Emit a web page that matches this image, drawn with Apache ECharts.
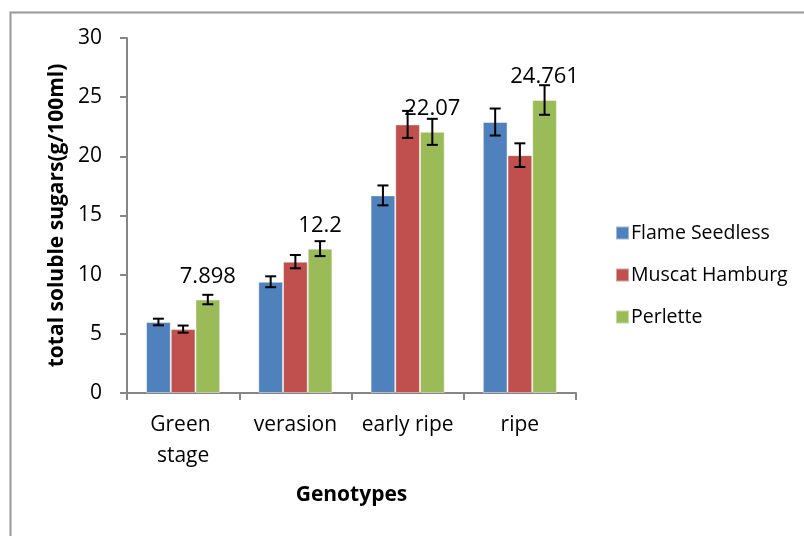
<!DOCTYPE html>
<html>
<head>
<meta charset="utf-8">
<script src="https://cdn.jsdelivr.net/npm/echarts@6/dist/echarts.min.js"></script>
<style>html,body{margin:0;padding:0;background:#fff}#c{width:804px;height:536px}</style>
</head>
<body>
<div id="c"></div>
<script>
const categories = ['Green stage', 'verasion', 'early ripe', 'ripe'];
const seriesNames = ['Flame Seedless', 'Muscat Hamburg', 'Perlette'];
const flameSeedless = [6.0, 9.4, 16.7, 22.9];
const muscatHamburg = [5.4, 11.1, 22.7, 20.1];
const perlette = [7.898, 12.2, 22.07, 24.761];
const flameErr = [0.28, 0.46, 0.84, 1.14];
const muscatErr = [0.3, 0.56, 1.14, 1.0];
const perletteErr = [0.4, 0.63, 1.1, 1.25];
const yTicks = [0, 5, 10, 15, 20, 25, 30];

const colors = ['#4F81BD', '#C0504D', '#9BBB59'];
const values = [flameSeedless, muscatHamburg, perlette];
const errs = [flameErr, muscatErr, perletteErr];
const FONT = 'Open Sans';
const BAR_FRAC = 0.22;

const chart = echarts.init(document.getElementById('c'));

const barSeries = values.map((vals, i) => ({
  name: seriesNames[i],
  type: 'bar',
  data: vals,
  barWidth: (BAR_FRAC * 100) + '%',
  barGap: '0%',
  itemStyle: { color: colors[i], borderColor: 'rgba(255,255,255,0.45)', borderWidth: 1 },
  label: i === 2 ? {
    show: true, position: 'top', distance: 12,
    fontFamily: FONT, fontSize: 22, color: '#000',
    formatter: p => String(p.value)
  } : { show: false }
}));

const errSeries = values.map((vals, i) => ({
  type: 'custom',
  name: seriesNames[i] + ' err',
  z: 10,
  silent: true,
  data: vals.map((v, k) => [k, v, errs[i][k]]),
  renderItem: (params, api) => {
    const k = api.value(0), v = api.value(1), e = api.value(2);
    const band = api.size([1, 0])[0];
    const cx = api.coord([k, v])[0] + (i - 1) * BAR_FRAC * band;
    const yHi = api.coord([k, v + e])[1];
    const yLo = api.coord([k, v - e])[1];
    const cap = 5.5;
    const style = { stroke: '#000', lineWidth: 2 };
    return {
      type: 'group',
      children: [
        { type: 'line', shape: { x1: cx, y1: yHi, x2: cx, y2: yLo }, style },
        { type: 'line', shape: { x1: cx - cap, y1: yHi, x2: cx + cap, y2: yHi }, style },
        { type: 'line', shape: { x1: cx - cap, y1: yLo, x2: cx + cap, y2: yLo }, style }
      ]
    };
  }
}));

chart.setOption({
  animation: false,
  backgroundColor: '#fff',
  graphic: [{
    type: 'rect', left: 8, top: 10,
    shape: { x: 0, y: 0, width: 900, height: 600 },
    style: { fill: 'none', stroke: '#999', lineWidth: 2 }, z: -1
  }],
  grid: { left: 127, right: 228, top: 38, bottom: 143 },
  legend: {
    orient: 'vertical', left: 615, top: 223, padding: 0,
    itemWidth: 13, itemHeight: 13, itemGap: 22,
    icon: 'rect',
    data: seriesNames,
    textStyle: { fontFamily: FONT, fontSize: 19.5, color: '#000', lineHeight: 20, padding: [0, 0, 0, -3] }
  },
  xAxis: {
    type: 'category',
    data: categories,
    name: 'Genotypes',
    nameLocation: 'middle',
    nameGap: 92,
    nameTextStyle: { fontFamily: FONT, fontSize: 21, fontWeight: 'bold', color: '#000' },
    axisLine: { lineStyle: { color: '#868686', width: 2 } },
    axisTick: { show: true, length: 7, alignWithLabel: false, lineStyle: { color: '#868686', width: 2 } },
    axisLabel: {
      fontFamily: FONT, fontSize: 21, color: '#000', margin: 17, lineHeight: 31,
      width: 100, overflow: 'break', interval: 0
    }
  },
  yAxis: {
    type: 'value',
    min: 0, max: 30, interval: 5,
    name: 'total soluble sugars(g/100ml)',
    nameLocation: 'middle',
    nameGap: 58,
    nameTextStyle: { fontFamily: FONT, fontSize: 21, fontWeight: 'bold', color: '#000' },
    splitLine: { show: false },
    axisLine: { show: true, lineStyle: { color: '#868686', width: 2 } },
    axisTick: { show: true, length: 7, lineStyle: { color: '#868686', width: 2 } },
    axisLabel: {
      fontFamily: FONT, fontSize: 21, color: '#000', margin: 25,
      formatter: v => yTicks.includes(v) ? String(v) : ''
    }
  },
  series: [...barSeries, ...errSeries]
});
</script>
</body>
</html>
